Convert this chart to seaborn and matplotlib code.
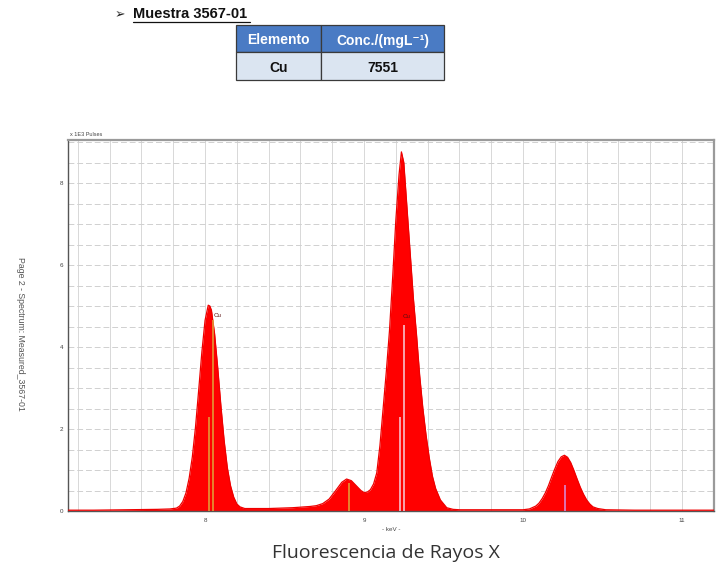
"""XRF spectrum of sample 3567-01 with Cu concentration table."""
import matplotlib

matplotlib.use("Agg")
import matplotlib.pyplot as plt
import numpy as np
import pandas as pd
import seaborn as sns
from matplotlib.patches import Rectangle
from matplotlib.ticker import MultipleLocator, FixedLocator

# spectrum (keV, x1E3 pulses)
energy = [7.14, 7.30, 7.50, 7.70, 7.78, 7.82, 7.84, 7.86, 7.88, 7.90, 7.92, 7.94,
          7.96, 7.98, 8.00, 8.02, 8.03, 8.04, 8.06, 8.08, 8.10, 8.12, 8.14, 8.16,
          8.18, 8.20, 8.22, 8.25, 8.40, 8.55, 8.66, 8.70, 8.74, 8.78, 8.82, 8.86,
          8.89, 8.92, 8.95, 8.98, 9.00, 9.02, 9.04, 9.06, 9.08, 9.10, 9.12, 9.14,
          9.16, 9.18, 9.20, 9.22, 9.235, 9.25, 9.27, 9.29, 9.31, 9.33, 9.35, 9.37,
          9.39, 9.41, 9.43, 9.45, 9.48, 9.52, 9.56, 9.60, 9.80, 10.00, 10.04, 10.08,
          10.10, 10.12, 10.14, 10.16, 10.18, 10.20, 10.22, 10.24, 10.26, 10.28, 10.30,
          10.32, 10.34, 10.36, 10.38, 10.40, 10.42, 10.44, 10.47, 10.52, 10.70, 11.00,
          11.20]
counts = [0.02, 0.02, 0.03, 0.04, 0.05, 0.07, 0.12, 0.23, 0.44, 0.80, 1.32, 2.05,
          2.95, 3.88, 4.65, 5.02, 5.00, 4.90, 4.32, 3.48, 2.55, 1.72, 1.06, 0.62,
          0.34, 0.17, 0.10, 0.06, 0.06, 0.08, 0.11, 0.13, 0.18, 0.29, 0.49, 0.70,
          0.78, 0.74, 0.62, 0.50, 0.45, 0.46, 0.52, 0.66, 0.93, 1.60, 2.50, 3.40,
          4.40, 5.70, 7.10, 8.20, 8.76, 8.50, 7.40, 6.30, 5.20, 4.30, 3.30, 2.50,
          1.85, 1.30, 0.85, 0.55, 0.27, 0.08, 0.04, 0.03, 0.03, 0.03, 0.05, 0.12,
          0.19, 0.30, 0.44, 0.62, 0.83, 1.03, 1.21, 1.32, 1.36, 1.31, 1.18,
          0.99, 0.78, 0.58, 0.41, 0.27, 0.17, 0.10, 0.06, 0.03, 0.02, 0.02,
          0.02]

# element line markers
line_energy = [8.027, 8.048, 8.905, 9.223, 9.252, 10.266]
line_height = [2.3, 4.66, 0.68, 2.3, 4.54, 0.63]
line_color = ["#e0a63a", "#e0a63a", "#e0a63a", "#f6cfdc", "#f6cfdc", "#d792e0"]
peak_labels = [("Cu", 8.052, 4.72), ("Cu", 9.24, 4.68)]

table_header = ["Elemento", "Conc./(mgL⁻¹)"]
table_row = ["Cu", "7551"]

df = pd.DataFrame({"keV": energy, "pulses": counts})

sns.set_style("white")
plt.rcParams["font.family"] = ["Liberation Sans", "DejaVu Sans"]

W, H = 727, 565
fig = plt.figure(figsize=(W / 100, H / 100), dpi=100)


def fx(px):
    return px / W


def fy(py):
    return 1 - py / H


ax = fig.add_axes([fx(68), fy(511), fx(714) - fx(68), fy(140) - fy(511)])
ax.fill_between(df["keV"], df["pulses"], color="#ff0000", linewidth=0, zorder=2)
sns.lineplot(data=df, x="keV", y="pulses", color="#ee0000", linewidth=0.9, ax=ax, zorder=3)
ax.vlines(line_energy, 0, line_height, colors=line_color, linewidth=1.1, zorder=4)
for txt, xe, yc in peak_labels:
    ax.text(xe, yc, txt, fontsize=4.5, color="#5a1010", ha="left", va="bottom", zorder=5)

ax.set_xlim(7.138, 11.201)
ax.set_ylim(0, 9.05)
ax.xaxis.set_major_locator(FixedLocator([8, 9, 10, 11]))
ax.xaxis.set_minor_locator(MultipleLocator(0.2))
ax.yaxis.set_major_locator(FixedLocator([0, 2, 4, 6, 8]))
ax.yaxis.set_minor_locator(MultipleLocator(0.5))
for which in ["major", "minor"]:
    ax.grid(which=which, axis="x", color="#d8d8d8", linewidth=0.7)
    ax.grid(which=which, axis="y", color="#d0d0d0", linewidth=0.7, linestyle=(0, (6, 3)))
ax.set_axisbelow(True)
ax.tick_params(which="both", direction="inout", length=3, width=0.7, color="#555555",
               labelsize=4.5, labelcolor="#444444", pad=2)
ax.tick_params(axis="x", which="both", direction="out")
ax.set_xlabel("- keV -", fontsize=4.5, color="#444444", labelpad=3)
ax.set_ylabel("")
for side in ["left", "bottom"]:
    ax.spines[side].set_color("#555555")
    ax.spines[side].set_linewidth(1.0)
for side in ["top", "right"]:
    ax.spines[side].set_color("#9a9a9a")
    ax.spines[side].set_linewidth(1.6)

fig.text(fx(70), fy(134), "x 1E3 Pulses", fontsize=4, color="#444444", ha="left", va="center")
fig.text(fx(20), fy(334), "Page 2 - Spectrum: Measured_3567-01", fontsize=6.3,
         color="#555555", rotation=270, ha="center", va="center")

# header line and table
fig.text(fx(115), fy(15), "➢", fontsize=9, color="#222222", ha="left", va="center",
         family=["DejaVu Sans"])
fig.text(fx(133), fy(14), "Muestra 3567-01", fontsize=10.5, fontweight="bold",
         color="#111111", ha="left", va="center")
fig.add_artist(plt.Line2D([fx(133), fx(250)], [fy(22), fy(22)], color="#111111",
                          linewidth=0.9))

cols = [(236, 321), (321, 444)]
rows = [(25, 52, "#4a7bc4", "white", table_header), (52, 80, "#dbe5f1", "#111111", table_row)]
for top, bot, fc, tc, vals in rows:
    for (x0, x1), val in zip(cols, vals):
        fig.add_artist(Rectangle((fx(x0), fy(bot)), fx(x1) - fx(x0), fy(top) - fy(bot),
                                 facecolor=fc, edgecolor="#3a3a3a", linewidth=0.9,
                                 transform=fig.transFigure))
        fig.text(fx((x0 + x1) / 2), fy((top + bot) / 2 + 0.5), val, fontsize=10,
                 fontweight="bold", color=tc, ha="center", va="center_baseline")

fig.text(fx(386), fy(553), "Fluorescencia de Rayos X", fontsize=14, color="#333333",
         ha="center", va="center", family=["Open Sans", "DejaVu Sans"])

fig.savefig("out.png", dpi=100)
plt.close(fig)
